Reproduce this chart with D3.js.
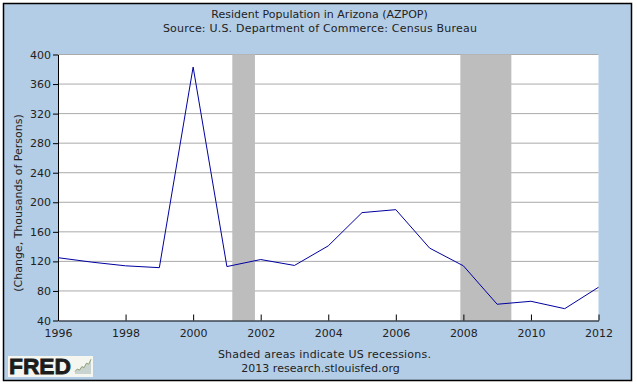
<!DOCTYPE html>
<html>
<head>
<meta charset="utf-8">
<script src="https://cdn.jsdelivr.net/npm/d3@7"></script>
<style>
  html, body { margin: 0; padding: 0; background: #fff; }
  svg { display: block; }
  text { font-family: "DejaVu Sans", sans-serif; font-size: 11px; fill: #222; }
</style>
</head>
<body>
<svg></svg>
<script>
const years = [1996, 1997, 1998, 1999, 2000, 2001, 2002, 2003, 2004, 2005, 2006, 2007, 2008, 2009, 2010, 2011, 2012];
const changes = [125, 119, 114, 111.5, 383, 113, 122.5, 114.5, 141, 186, 190, 138, 114, 62, 66, 56, 85];
const yTicks = [40, 80, 120, 160, 200, 240, 280, 320, 360, 400];
const xTicks = [1996, 1998, 2000, 2002, 2004, 2006, 2008, 2010, 2012];
const recessionStarts = [2001.16, 2007.91];
const recessionEnds = [2001.83, 2009.42];
const sparkValues = [1, 2, 1.6, 3, 2.6, 4.4, 4, 6];

const w = 637;
const h = 385;
const left = 58;
const right = 598.5;
const top_ = 54.5;
const bottom = 320.5;

const svg = d3.select("svg").attr("width", w).attr("height", h);

const xScale = d3.scaleLinear().domain([1996, 2012]).range([left, right]);
const yScale = d3.scaleLinear().domain([40, 400]).range([bottom, top_]);

// frame and plot background
svg.append("rect")
  .attr("x", 3.5).attr("y", 3.5)
  .attr("width", 628).attr("height", 377)
  .attr("fill", "#b3cde6")
  .attr("stroke", "#000")
  .attr("stroke-width", 1.5);

svg.append("rect")
  .attr("x", left).attr("y", top_)
  .attr("width", right - left).attr("height", bottom - top_)
  .attr("fill", "#fff");

// gridlines
svg.append("g")
  .selectAll("line")
  .data(yTicks.filter((d) => d > 40))
  .join("line")
  .attr("x1", left)
  .attr("x2", right)
  .attr("y1", (d) => yScale(d))
  .attr("y2", (d) => yScale(d))
  .attr("stroke", "#aaa")
  .attr("stroke-width", 1);

// recessions
svg.append("g")
  .selectAll("rect")
  .data(recessionStarts)
  .join("rect")
  .attr("x", (d) => xScale(d))
  .attr("y", top_)
  .attr("width", (d, i) => xScale(recessionEnds[i]) - xScale(d))
  .attr("height", bottom - top_)
  .attr("fill", "#bdbdbd");

// axes
const xAxis = d3.axisBottom(xScale)
  .tickValues(xTicks)
  .tickFormat(d3.format("d"))
  .tickSizeInner(-6)
  .tickSizeOuter(0)
  .tickPadding(9);
const xG = svg.append("g")
  .attr("transform", `translate(0, ${bottom})`)
  .call(xAxis);
xG.select(".domain").attr("stroke", "#000");
xG.selectAll("text").attr("fill", "#222").style("font-size", "11px");

const yAxis = d3.axisLeft(yScale)
  .tickValues(yTicks)
  .tickSizeInner(5)
  .tickSizeOuter(0)
  .tickPadding(2);
const yG = svg.append("g")
  .attr("transform", `translate(${left}, 0)`)
  .call(yAxis);
yG.select(".domain").attr("stroke", "#000");
yG.selectAll("text").attr("fill", "#222").style("font-size", "11px");

// series
const line = d3.line()
  .x((d) => xScale(d))
  .y((d, i) => yScale(changes[i]));

svg.append("path")
  .datum(years)
  .attr("d", line)
  .attr("fill", "none")
  .attr("stroke", "#0000a0")
  .attr("stroke-width", 1);

// titles
const addText = (str, x, y, spacing, extra) => {
  const t = svg.append("text")
    .text(str)
    .attr("x", x)
    .attr("y", y)
    .attr("text-anchor", "middle")
    .style("letter-spacing", spacing + "px");
  if (extra) t.attr("transform", extra);
  return t;
};

addText("Resident Population in Arizona (AZPOP)", 319.5, 18, 0);
addText("Source: U.S. Department of Commerce: Census Bureau", 320, 32, 0.2);
addText("Shaded areas indicate US recessions.", 324.5, 358, 0.2);
addText("2013 research.stlouisfed.org", 320.5, 372, 0.05);
addText("(Change, Thousands of Persons)", 0, 0, 0, "translate(22, 203) rotate(-90)");

// FRED logo
const logo = svg.append("g");
logo.append("rect")
  .attr("x", 8).attr("y", 356)
  .attr("width", 85).attr("height", 21)
  .attr("fill", "#f4f6ef");
logo.append("text")
  .text("FRED")
  .attr("x", 9)
  .attr("y", 374)
  .style("font-family", "'Liberation Sans', sans-serif")
  .style("font-weight", "bold")
  .style("font-size", "22px")
  .style("fill", "#1c1c1c")
  .style("stroke", "#1c1c1c")
  .style("stroke-width", "0.8px")
  .attr("textLength", 62)
  .attr("lengthAdjust", "spacingAndGlyphs");

const sparkX = d3.scaleLinear().domain([0, sparkValues.length - 1]).range([75, 91]);
const sparkY = d3.scaleLinear().domain([0, 6.5]).range([374, 358]);
logo.append("path")
  .datum(sparkValues)
  .attr("d", d3.area().x((d, i) => sparkX(i)).y0(374).y1((d) => sparkY(d)))
  .attr("fill", "#c9d3cf");
logo.append("path")
  .datum(sparkValues)
  .attr("d", d3.line().x((d, i) => sparkX(i)).y((d) => sparkY(d)))
  .attr("fill", "none")
  .attr("stroke", "#8f9f7a");
</script>
</body>
</html>
